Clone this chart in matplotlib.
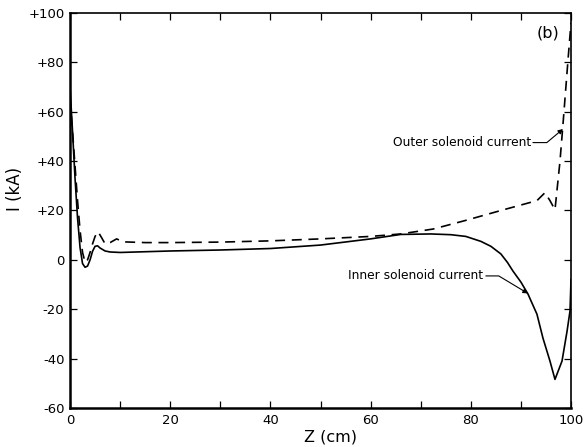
import matplotlib
matplotlib.use("Agg")
import matplotlib.pyplot as plt
import numpy as np

# posicion a lo largo del solenoide (cm) y corrientes (kA)
z_inner = [0, 0.5, 1, 1.5, 2, 2.5, 3, 3.5, 4, 4.5, 5, 5.5, 6, 7, 8, 10, 15, 20,
           30, 40, 50, 60, 66, 72, 76, 79, 82, 84, 86, 87.3, 88.4, 90, 91.4, 93.2, 94.4,
           95.8, 96.8, 98.2, 99.2, 99.8, 100]
i_inner = [70, 52, 33, 17, 5, -1.5, -3, -2.5, 0, 3.5, 5.5, 5.7, 4.8, 3.6, 3.2, 3, 3.3, 3.6,
           4, 4.6, 6, 8.5, 10.3, 10.5, 10.2, 9.5, 7.5, 5.5, 2.4, -1, -4.5, -9, -13.8, -22, -31.7,
           -41, -48.4, -41, -29, -20.7, -8]

z_outer = [0, 0.5, 1, 1.5, 2, 2.5, 3, 3.5, 4, 4.5, 5, 5.6, 6.3, 7, 8, 9.3, 10.6, 15, 20,
           30, 40, 50, 60, 66, 72.5, 79, 86, 93.2, 94.8, 95.8, 96.8, 97.8, 98.4, 99.4, 100]
i_outer = [65, 52, 38, 24, 12, 3, -1, 0, 3, 6.5, 9.5, 11.4, 9, 6.5, 7, 8.5, 7.3, 7, 7,
           7.2, 7.7, 8.5, 9.5, 10.5, 12.5, 16, 20, 24, 27.2, 24, 20.3, 40, 55, 81, 96]

xticks = np.arange(0, 101, 20)
yticks = np.arange(-60, 101, 20)
ylabels = ["-60", "-40", "-20", "0", "+20", "+40", "+60", "+80", "+100"]


def dibujar():
    fig = plt.figure(figsize=(5.85, 4.47), dpi=100)
    ax = fig.add_axes([0.1197, 0.0872, 0.8564, 0.8838])

    ax.plot(z_inner, i_inner, color="black", lw=1.2)
    ax.plot(z_outer, i_outer, color="black", lw=1.2, dashes=(6, 4))

    ax.set_xlim(0, 100)
    ax.set_ylim(-60, 100)
    ax.set_xticks(xticks)
    ax.set_xticks(np.arange(0, 101, 10), minor=True)
    ax.set_yticks(yticks)
    ax.set_yticklabels(ylabels)
    ax.tick_params(which="both", direction="in", top=True, right=True,
                   labelsize=9.5, length=5, width=0.9, pad=4)
    ax.tick_params(which="minor", length=5)
    for lado, ancho in [("left", 1.8), ("bottom", 1.8), ("top", 1.2), ("right", 1.2)]:
        ax.spines[lado].set_linewidth(ancho)

    ax.set_ylabel("I (kA)", fontsize=12, va="center")
    ax.yaxis.set_label_coords(-0.11, 0.554)
    ax.set_xlabel("Z (cm)", fontsize=11.5, va="center")
    ax.xaxis.set_label_coords(0.519, -0.074)

    ax.text(95.5, 92, "(b)", fontsize=11.5, ha="center", va="center")

    # etiquetas con flecha
    ax.text(92, 47.5, "Outer solenoid current", fontsize=8.8, ha="right", va="center")
    ax.annotate("", xy=(98.4, 53), xytext=(92.4, 47.5),
                arrowprops=dict(arrowstyle="-|>", color="black", lw=0.8,
                                mutation_scale=7, shrinkA=0, shrinkB=0,
                                connectionstyle="angle,angleA=0,angleB=40,rad=0"))

    ax.text(82.5, -6.5, "Inner solenoid current", fontsize=8.8, ha="right", va="center")
    ax.annotate("", xy=(91.4, -13.6), xytext=(83, -6.5),
                arrowprops=dict(arrowstyle="-|>", color="black", lw=0.8,
                                mutation_scale=7, shrinkA=0, shrinkB=0,
                                connectionstyle="angle,angleA=0,angleB=-31,rad=0"))

    fig.savefig("out.png", dpi=100)


if __name__ == '__main__':
    dibujar()
